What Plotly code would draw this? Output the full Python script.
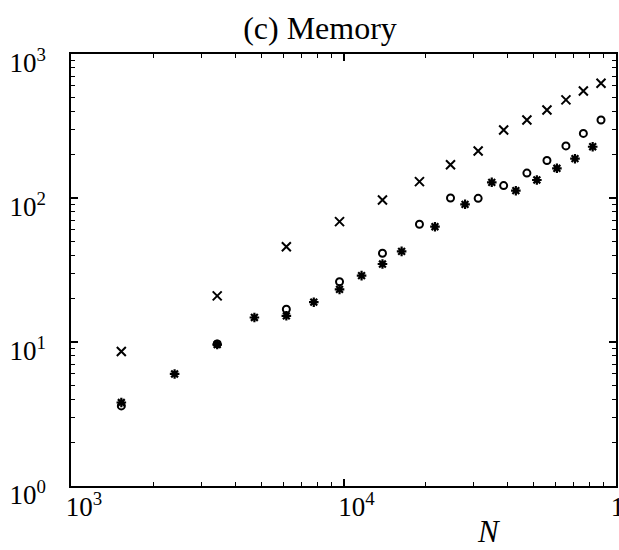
import plotly.graph_objects as go

# Problem size N and memory use for the three methods
n_cross = [1530, 3440, 6170, 9670, 13900, 19000, 24700, 31200, 38700,
           47100, 55800, 65500, 75900, 88100]
mem_cross = [8.6, 20.9, 45.9, 68.5, 96.9, 130, 170, 212, 297, 348, 408,
             480, 554, 626]

n_circle = [1530, 3440, 6170, 9670, 13900, 19000, 24700, 31200, 38700,
            47100, 55800, 65500, 75900, 88100]
mem_circle = [3.6, 9.7, 16.9, 26.2, 41.3, 65.7, 100, 99.5, 122, 149, 182,
              230, 281, 348]

n_star = [1530, 2400, 3440, 4710, 6170, 7780, 9670, 11650, 13900, 16340,
          21660, 27930, 35000, 42900, 51230, 60690, 70700, 82120]
mem_star = [3.8, 6.0, 9.6, 14.8, 15.2, 18.9, 23.2, 28.9, 34.8, 42.6, 63.2,
            90.4, 128.5, 112.4, 133.4, 160.8, 187.5, 227]

x_tickvals = [1e3, 1e4, 1e5]
x_ticktext = ["10<sup>3</sup>", "10<sup>4</sup>", "10<sup>5</sup>"]
y_tickvals = [1, 10, 100, 1000]
y_ticktext = ["10<sup>0</sup>", "10<sup>1</sup>", "10<sup>2</sup>", "10<sup>3</sup>"]

FONT = "Liberation Serif"

# minor tick positions (2..9 within each decade)
x_minor = [m * 10 ** e for e in (3, 4) for m in range(2, 10)]
y_minor = [m * 10 ** e for e in (0, 1, 2) for m in range(2, 10)]

fig = go.Figure()
fig.add_trace(go.Scatter(
    x=n_cross, y=mem_cross, mode="markers",
    marker=dict(symbol="x-thin-open", size=9, color="black",
                line=dict(color="black", width=2)),
))
fig.add_trace(go.Scatter(
    x=n_circle, y=mem_circle, mode="markers",
    marker=dict(symbol="circle-open", size=7, color="black",
                line=dict(color="black", width=2)),
))
fig.add_trace(go.Scatter(
    x=n_star, y=mem_star, mode="markers",
    marker=dict(symbol="asterisk-open", size=8, color="black",
                line=dict(color="black", width=2.2)),
))
# empty trace that carries the minor-tick axes
fig.add_trace(go.Scatter(x=[], y=[], xaxis="x2", yaxis="y2",
                         mode="markers", hoverinfo="skip"))

tick_font = dict(family=FONT, size=27, color="black")

fig.update_layout(
    width=619, height=550,
    margin=dict(l=71, r=3, t=54, b=64),
    paper_bgcolor="white", plot_bgcolor="white",
    showlegend=False,
    xaxis=dict(
        type="log", range=[3, 5], tickmode="array",
        tickvals=x_tickvals, ticktext=x_ticktext,
        ticks="inside", ticklen=7, tickwidth=1.5, tickcolor="black",
        showline=True, linewidth=1.5, linecolor="black", mirror="allticks",
        showgrid=False, zeroline=False, tickfont=tick_font, automargin=False,
        ticklabelshift=13, ticklabelstandoff=-4, ticklabeloverflow="allow",
    ),
    yaxis=dict(
        type="log", range=[0, 3], tickmode="array",
        tickvals=y_tickvals, ticktext=y_ticktext,
        ticks="inside", ticklen=7, tickwidth=1.5, tickcolor="black",
        showline=True, linewidth=1.5, linecolor="black", mirror="allticks",
        showgrid=False, zeroline=False, tickfont=tick_font, automargin=False,
        ticklabelshift=9, ticklabelstandoff=18, ticklabeloverflow="allow",
    ),
    xaxis2=dict(
        type="log", range=[3, 5], overlaying="x", anchor="y", side="bottom",
        tickmode="array", tickvals=x_minor, showticklabels=False,
        ticks="inside", ticklen=4, tickwidth=1.3, tickcolor="black",
        mirror="allticks", showline=False, showgrid=False, zeroline=False,
        automargin=False,
    ),
    yaxis2=dict(
        type="log", range=[0, 3], overlaying="y", anchor="x", side="left",
        tickmode="array", tickvals=y_minor, showticklabels=False,
        ticks="inside", ticklen=4, tickwidth=1.3, tickcolor="black",
        mirror="allticks", showline=False, showgrid=False, zeroline=False,
        automargin=False,
    ),
    title=dict(text="(c) Memory", x=320 / 619, xanchor="center",
               y=1 - 28 / 550, yanchor="middle",
               font=dict(family=FONT, size=32, color="black")),
    annotations=[dict(
        text="<i>N</i>", xref="paper", yref="paper",
        x=(489 - 71) / 545, y=-(531 - 486) / 432,
        xanchor="center", yanchor="middle", showarrow=False,
        font=dict(family=FONT, size=31, color="black"),
    )],
)

fig.write_html("out.html")
